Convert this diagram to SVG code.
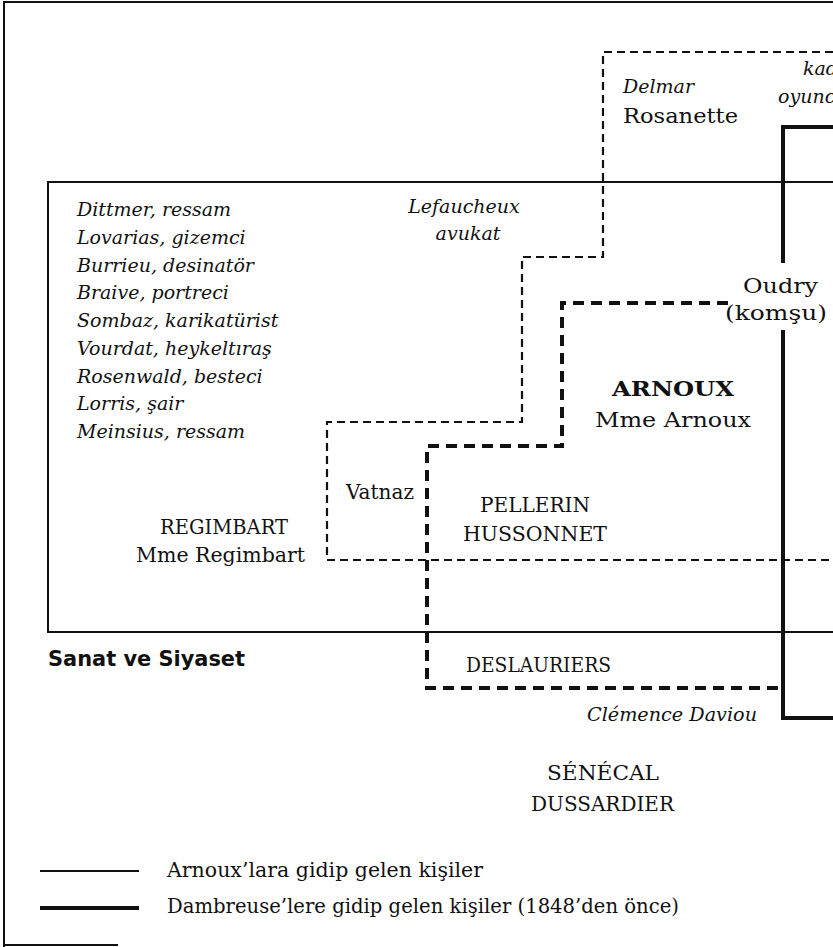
<svg xmlns="http://www.w3.org/2000/svg" width="833" height="947" viewBox="0 0 833 947">
<style>
.t{font-family:"DejaVu Serif","Liberation Serif",serif;font-size:21px;fill:#111}
.i{font-style:italic;font-size:19px}
.c{text-anchor:middle}
.b{font-weight:bold}
.thin{fill:none;stroke:#111;stroke-width:2}
.thick{fill:none;stroke:#111;stroke-width:4}
.dthin{fill:none;stroke:#111;stroke-width:2.2;stroke-dasharray:8 5}
.dthick{fill:none;stroke:#111;stroke-width:4;stroke-dasharray:11 7}
</style>
<rect width="833" height="947" fill="#fff"/>
<g id="connectors">
<path id="frame" class="thin" d="M4 947 V2 H833 M4 945 H118"/>
<path id="sanat-siyaset" class="thin" d="M833 182 H48 V632 H833"/>
<path id="rosanette-region" class="dthin" d="M833 52 H603 V257 H522 V422 H327 V560 H833"/>
<path id="arnoux-region" class="dthick" d="M728 303 H562 V446 H427 V688 H780"/>
<path id="dambreuse-top" class="thick" d="M833 127 H783 V263"/>
<path id="dambreuse-bottom" class="thick" d="M783 330 V718 H833"/>
<path id="legend-thin" class="thin" d="M40 871 H139"/>
<path id="legend-thick" class="thick" d="M40 908 H139"/>
</g>
<g id="node-kadin"><text class="t i" x="803" y="75">kadın</text><text class="t i" x="778" y="103">oyuncu</text></g>
<g id="node-rosanette"><text class="t i" x="623" y="93">Delmar</text><text class="t" x="623" y="123" textLength="115" lengthAdjust="spacingAndGlyphs">Rosanette</text></g>
<g id="node-lefaucheux"><text class="t i c" x="464" y="213">Lefaucheux</text><text class="t i c" x="468" y="240">avukat</text></g>
<g id="node-oudry"><text class="t" x="743" y="293" textLength="75" lengthAdjust="spacingAndGlyphs">Oudry</text><text class="t" x="725" y="320" textLength="102" lengthAdjust="spacingAndGlyphs">(komşu)</text></g>
<g id="node-artists">
<text class="t i" x="77" y="216">Dittmer, ressam</text>
<text class="t i" x="77" y="244">Lovarias, gizemci</text>
<text class="t i" x="77" y="272">Burrieu, desinatör</text>
<text class="t i" x="77" y="299">Braive, portreci</text>
<text class="t i" x="77" y="327">Sombaz, karikatürist</text>
<text class="t i" x="77" y="355">Vourdat, heykeltıraş</text>
<text class="t i" x="77" y="383">Rosenwald, besteci</text>
<text class="t i" x="77" y="410">Lorris, şair</text>
<text class="t i" x="77" y="438">Meinsius, ressam</text>
</g>
<g id="node-arnoux"><text class="t b" x="612" y="396" font-size="22" textLength="122" lengthAdjust="spacingAndGlyphs">ARNOUX</text><text class="t" x="595" y="427" font-size="22" textLength="156" lengthAdjust="spacingAndGlyphs">Mme Arnoux</text></g>
<g id="node-vatnaz"><text class="t" x="346" y="499" font-size="18" textLength="68" lengthAdjust="spacingAndGlyphs">Vatnaz</text></g>
<g id="node-pellerin"><text class="t" x="480" y="512" font-size="20" textLength="110" lengthAdjust="spacingAndGlyphs">PELLERIN</text><text class="t" x="463" y="541" font-size="20" textLength="144" lengthAdjust="spacingAndGlyphs">HUSSONNET</text></g>
<g id="node-regimbart"><text class="t" x="160" y="534" font-size="20" textLength="128" lengthAdjust="spacingAndGlyphs">REGIMBART</text><text class="t" x="136" y="562" font-size="20" textLength="169" lengthAdjust="spacingAndGlyphs">Mme Regimbart</text></g>
<g id="node-sanat"><text x="48" y="666" style="font-family:'DejaVu Sans','Liberation Sans',sans-serif;font-weight:bold;font-size:21px;fill:#111" textLength="197" lengthAdjust="spacingAndGlyphs">Sanat ve Siyaset</text></g>
<g id="node-deslauriers"><text class="t" x="466" y="672" font-size="20" textLength="145" lengthAdjust="spacingAndGlyphs">DESLAURIERS</text></g>
<g id="node-clemence"><text class="t i" x="757" y="721" text-anchor="end" textLength="170" lengthAdjust="spacingAndGlyphs">Clémence Daviou</text></g>
<g id="node-senecal"><text class="t" x="547" y="780" textLength="112" lengthAdjust="spacingAndGlyphs">SÉNÉCAL</text><text class="t" x="531" y="811" textLength="143" lengthAdjust="spacingAndGlyphs">DUSSARDIER</text></g>
<g id="legend">
<text class="t" x="167" y="877" font-size="20" textLength="316" lengthAdjust="spacingAndGlyphs">Arnoux’lara gidip gelen kişiler</text>
<text class="t" x="167" y="913" font-size="20" textLength="512" lengthAdjust="spacingAndGlyphs">Dambreuse’lere gidip gelen kişiler (1848’den önce)</text>
</g>
</svg>
